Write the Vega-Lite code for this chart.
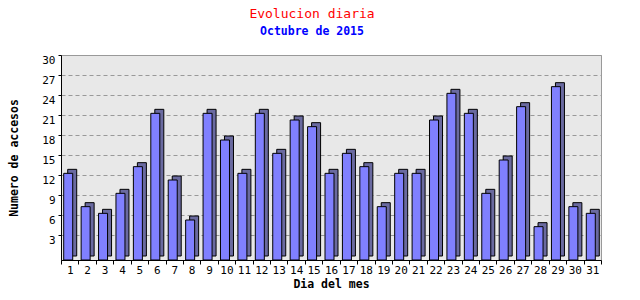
{
  "$schema": "https://vega.github.io/schema/vega-lite/v6.json",
  "width": 540,
  "height": 205,
  "autosize": "none",
  "padding": {"left": 61, "top": 55, "right": 39, "bottom": 40},
  "background": "white",
  "title": {
    "text": "Evolucion diaria",
    "subtitle": "Octubre de 2015",
    "font": "DejaVu Sans Mono",
    "fontSize": 13,
    "fontWeight": "normal",
    "color": "#ff0000",
    "subtitleFont": "DejaVu Sans Mono",
    "subtitleFontSize": 11.5,
    "subtitleFontWeight": "bold",
    "subtitleColor": "#0000ff",
    "subtitlePadding": 5,
    "anchor": "middle",
    "offset": 17,
    "dx": -19
  },
  "config": {
    "view": {"fill": "#e8e8e8", "stroke": "#999999"},
    "axis": {
      "labelFont": "DejaVu Sans Mono",
      "labelFontSize": 11,
      "labelColor": "#000000",
      "titleFont": "DejaVu Sans Mono",
      "titleFontSize": 11.5,
      "titleFontWeight": "bold",
      "titleColor": "#000000",
      "domainColor": "#000000",
      "tickColor": "#000000"
    }
  },
  "data": {
    "values": [
      {"dia": "1", "accesos": 13}, {"dia": "2", "accesos": 8}, {"dia": "3", "accesos": 7},
      {"dia": "4", "accesos": 10}, {"dia": "5", "accesos": 14}, {"dia": "6", "accesos": 22},
      {"dia": "7", "accesos": 12}, {"dia": "8", "accesos": 6}, {"dia": "9", "accesos": 22},
      {"dia": "10", "accesos": 18}, {"dia": "11", "accesos": 13}, {"dia": "12", "accesos": 22},
      {"dia": "13", "accesos": 16}, {"dia": "14", "accesos": 21}, {"dia": "15", "accesos": 20},
      {"dia": "16", "accesos": 13}, {"dia": "17", "accesos": 16}, {"dia": "18", "accesos": 14},
      {"dia": "19", "accesos": 8}, {"dia": "20", "accesos": 13}, {"dia": "21", "accesos": 13},
      {"dia": "22", "accesos": 21}, {"dia": "23", "accesos": 25}, {"dia": "24", "accesos": 22},
      {"dia": "25", "accesos": 10}, {"dia": "26", "accesos": 15}, {"dia": "27", "accesos": 23},
      {"dia": "28", "accesos": 5}, {"dia": "29", "accesos": 26}, {"dia": "30", "accesos": 8},
      {"dia": "31", "accesos": 7}
    ]
  },
  "encoding": {
    "x": {
      "field": "dia",
      "type": "ordinal",
      "sort": null,
      "title": "Dia del mes",
      "scale": {"paddingInner": 0, "paddingOuter": 0},
      "axis": {
        "labelAngle": 0,
        "tickBand": "extent",
        "tickSize": 4,
        "labelPadding": 0,
        "titlePadding": 3,
        "grid": false
      }
    },
    "y": {
      "field": "accesos",
      "type": "quantitative",
      "title": "Numero de accesos",
      "scale": {"domain": [0, 30.75], "nice": false},
      "axis": {
        "values": [3, 6, 9, 12, 15, 18, 21, 24, 27, 30],
        "grid": true,
        "gridDash": [4, 3],
        "gridColor": "#999999",
        "tickOffset": -5,
        "labelOffset": 5,
        "tickSize": 3,
        "labelPadding": 3,
        "titlePadding": 22
      }
    }
  },
  "layer": [
    {"mark": {"type": "bar", "width": 9, "xOffset": 2.5, "yOffset": -4, "color": "#6a6aa0", "stroke": "#000000", "strokeWidth": 1}},
    {"mark": {"type": "bar", "width": 9, "xOffset": -1.5, "color": "#8080ff", "stroke": "#000000", "strokeWidth": 1}}
  ]
}
